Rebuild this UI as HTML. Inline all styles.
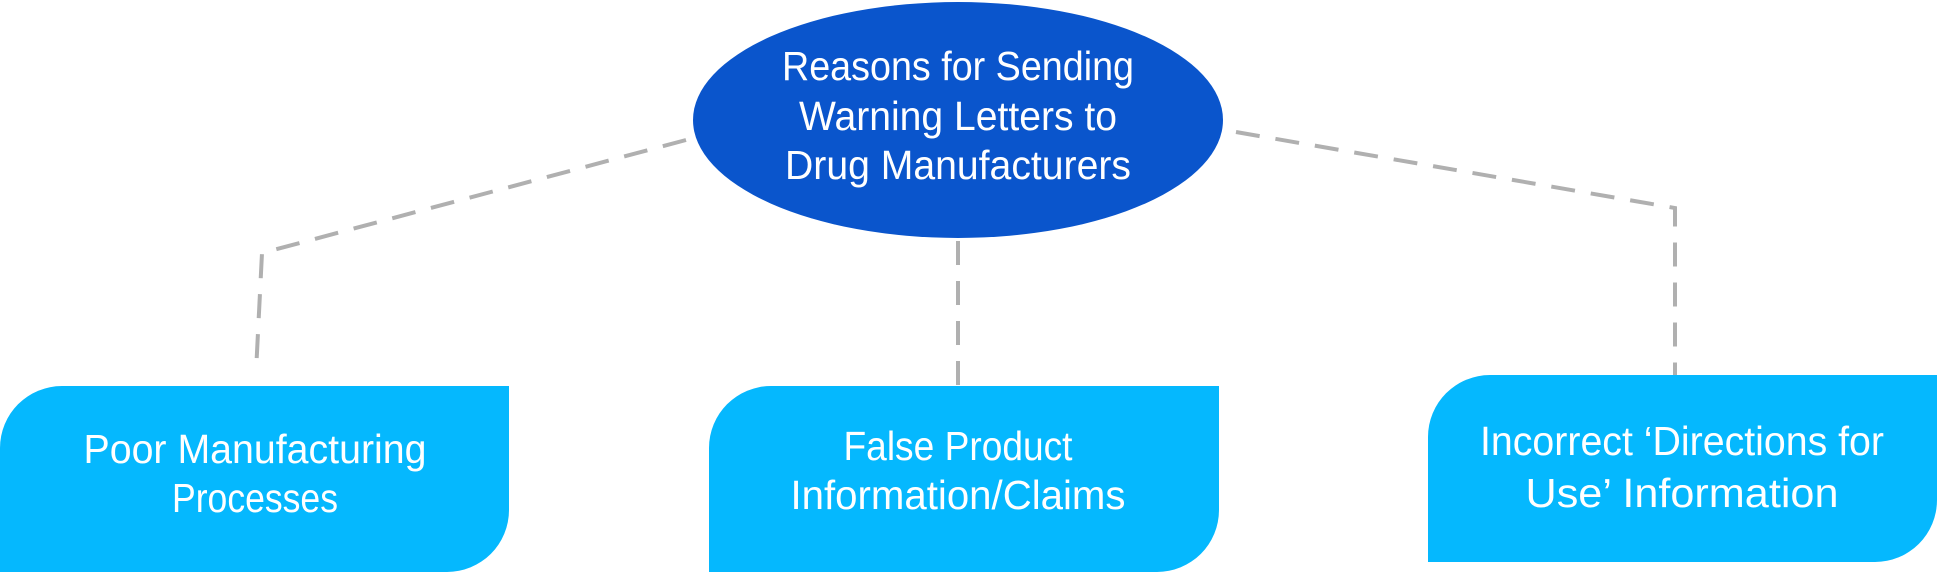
<!DOCTYPE html>
<html><head><style>html,body{margin:0;padding:0;background:#fff;}svg{display:block}</style></head>
<body>
<svg width="1937" height="573" viewBox="0 0 1937 573" xmlns="http://www.w3.org/2000/svg" font-family="'Liberation Sans', sans-serif" fill="#fff">
<g stroke="#b0b0b0" stroke-width="4" fill="none" stroke-dasharray="24,16">
<polyline points="686,140 262,253 256,372"/>
<line x1="958" y1="241" x2="958" y2="385"/>
<polyline points="1236,132 1675,208 1675,390"/>
</g>
<ellipse cx="958" cy="120" rx="265" ry="118" fill="#0a55cc"/>
<path d="M62,386 H509 V510 A62,62 0 0 1 447,572 H0 V448 A62,62 0 0 1 62,386 Z" fill="#05b8fe"/>
<path d="M771,386 H1219 V510 A62,62 0 0 1 1157,572 H709 V448 A62,62 0 0 1 771,386 Z" fill="#05b8fe"/>
<path d="M1490,375 H1937 V500 A62,62 0 0 1 1875,562 H1428 V437 A62,62 0 0 1 1490,375 Z" fill="#05b8fe"/>
<g font-size="41" text-anchor="middle">
<text x="958" y="80" textLength="352" lengthAdjust="spacingAndGlyphs">Reasons for Sending</text>
<text x="958" y="130" textLength="318" lengthAdjust="spacingAndGlyphs">Warning Letters to</text>
<text x="958" y="179" textLength="346" lengthAdjust="spacingAndGlyphs">Drug Manufacturers</text>
<text x="255" y="463" textLength="343" lengthAdjust="spacingAndGlyphs">Poor Manufacturing</text>
<text x="255" y="512" textLength="166" lengthAdjust="spacingAndGlyphs">Processes</text>
<text x="958" y="460" textLength="229" lengthAdjust="spacingAndGlyphs">False Product</text>
<text x="958" y="509" textLength="335" lengthAdjust="spacingAndGlyphs">Information/Claims</text>
<text x="1682" y="455" textLength="404" lengthAdjust="spacingAndGlyphs">Incorrect ‘Directions for</text>
<text x="1682" y="507" textLength="313" lengthAdjust="spacingAndGlyphs">Use’ Information</text>
</g>
</svg>
</body></html>
